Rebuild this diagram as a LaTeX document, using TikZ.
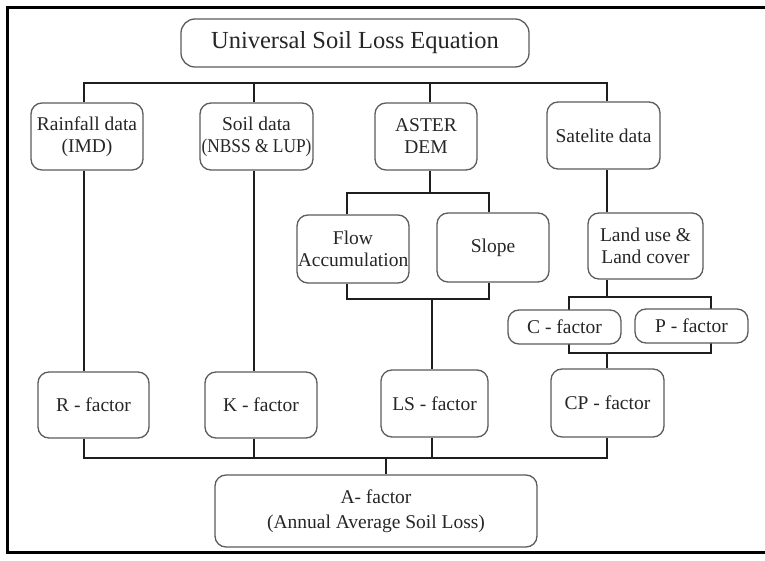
\documentclass[tikz,border=0pt]{standalone}
\usepackage{fontspec}
\setmainfont{Liberation Serif}
\usepackage{graphicx}
\definecolor{linec}{HTML}{1E1E1E}
\definecolor{boxgray}{HTML}{5C5C5C}
\definecolor{textc}{HTML}{262626}
\pgfdeclarelayer{bg}
\pgfsetlayers{bg,main}
\begin{document}
\begin{tikzpicture}[x=1pt,y=-1pt,
  box/.style={draw=boxgray, line width=1.3pt, rounded corners=11pt, fill=white,
    inner sep=0pt, align=center, text=textc, font=\fontsize{19.5}{22}\selectfont},
  conn/.style={draw=linec, line width=2.6pt},
  frame/.style={draw=black, line width=3pt}]
\useasboundingbox (0,0) rectangle (765,561);
% boxes
\node[box, rounded corners=14pt, minimum width=348pt, minimum height=48pt,
  font=\fontsize{24.5}{28}\selectfont] (title) at (355,43) {Universal Soil Loss Equation};
\node[box, minimum width=112pt, minimum height=67pt] (rain) at (87,136.5) {Rainfall data\\(IMD)};
\node[box, minimum width=113pt, minimum height=67pt] (soil) at (256.5,136.5) {Soil data\\\scalebox{0.89}[1]{(NBSS \& LUP)}};
\node[box, minimum width=102pt, minimum height=67pt] (aster) at (426,136.5) {ASTER\\DEM};
\node[box, minimum width=113pt, minimum height=67pt] (sat) at (603.5,135.5) {Satelite data};
\node[box, minimum width=112pt, minimum height=68pt] (flow) at (353,249) {Flow\\Accumulation};
\node[box, minimum width=112pt, minimum height=69pt] (slope) at (493,247.5) {Slope};
\node[box, minimum width=115pt, minimum height=66pt] (land) at (645.5,246) {Land use \&\\Land cover};
\node[box, minimum width=113pt, minimum height=34pt] (cf) at (564.5,327) {C - factor};
\node[box, minimum width=113pt, minimum height=34pt] (pf) at (691.5,326) {P - factor};
\node[box, minimum width=111pt, minimum height=66pt] (R) at (93.5,405) {R - factor};
\node[box, minimum width=112pt, minimum height=66pt] (K) at (261,405) {K - factor};
\node[box, minimum width=107pt, minimum height=67pt] (LS) at (434.5,403.5) {LS - factor};
\node[box, minimum width=113pt, minimum height=68pt] (CP) at (607.5,403) {CP - factor};
\node[box, minimum width=322pt, minimum height=72pt, font=\fontsize{19.5}{25}\selectfont] (A) at (376,511) {A- factor\\(Annual Average Soil Loss)};
% junction coordinates
\coordinate (xR) at (84,0);
\coordinate (xK) at (254,0);
\coordinate (xA) at (430,0);
\coordinate (xL) at (432,0);
\coordinate (xS) at (607,0);
\coordinate (xF) at (347,0);
\coordinate (xSl) at (489,0);
\coordinate (xC) at (569,0);
\coordinate (xP) at (711,0);
\coordinate (xAf) at (386,0);
\coordinate (tb) at (0,83);
\coordinate (ab) at (0,193);
\coordinate (lb) at (0,299);
\coordinate (cb1) at (0,297);
\coordinate (cb2) at (0,353);
\coordinate (bb) at (0,458);
\begin{pgfonlayer}{bg}
\fill[white] (0,0) rectangle (765,561);
% frame
\draw[frame] (765,8) -- (7,8) -- (7,552) -- (765,552);
% top bar
\draw[conn] (xR |- rain.north) -- (xR |- tb) -- (xS |- tb) -- (xS |- sat.north);
\draw[conn] (xK |- tb) -- (xK |- soil.north);
\draw[conn] (xA |- tb) -- (xA |- aster.north);
% rainfall, soil
\draw[conn] (xR |- rain.south) -- (xR |- R.north);
\draw[conn] (xK |- soil.south) -- (xK |- K.north);
% aster branch
\draw[conn] (xA |- aster.south) -- (xA |- ab);
\draw[conn] (xF |- flow.north) -- (xF |- ab) -- (xSl |- ab) -- (xSl |- slope.north);
\draw[conn] (xF |- flow.south) -- (xF |- lb) -- (xSl |- lb) -- (xSl |- slope.south);
\draw[conn] (xL |- lb) -- (xL |- LS.north);
% satellite branch
\draw[conn] (xS |- sat.south) -- (xS |- land.north);
\draw[conn] (xS |- land.south) -- (xS |- cb1);
\draw[conn] (xC |- cb1) rectangle (xP |- cb2);
\draw[conn] (xS |- cb2) -- (xS |- CP.north);
% bottom bar
\draw[conn] (xR |- R.south) -- (xR |- bb) -- (xS |- bb) -- (xS |- CP.south);
\draw[conn] (xK |- K.south) -- (xK |- bb);
\draw[conn] (xL |- LS.south) -- (xL |- bb);
\draw[conn] (xAf |- bb) -- (xAf |- A.north);
\end{pgfonlayer}
\end{tikzpicture}
\end{document}
